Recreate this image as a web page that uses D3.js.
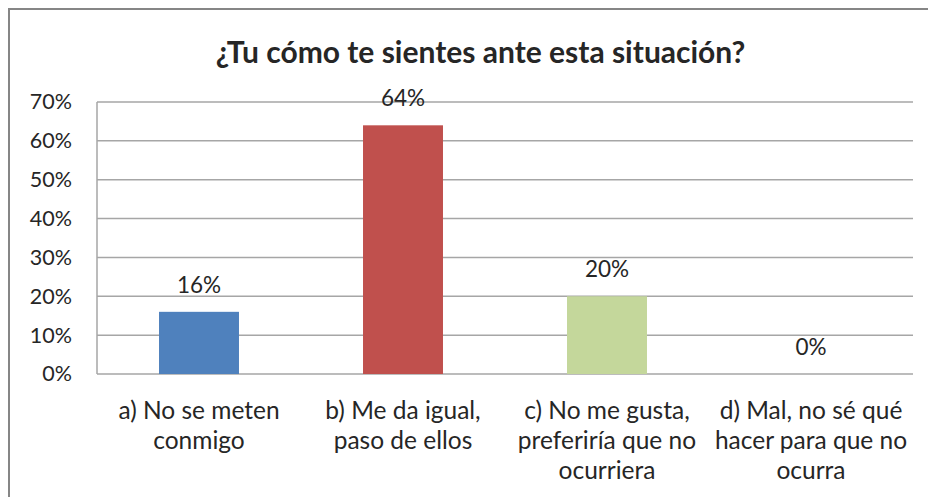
<!DOCTYPE html>
<html>
<head>
<meta charset="utf-8">
<script src="https://cdn.jsdelivr.net/npm/d3@7"></script>
<style>
  html, body { margin: 0; padding: 0; background: #fff; }
  svg { display: block; }
  text { font-family: Lato, "Open Sans", sans-serif; fill: #262626; }
</style>
</head>
<body>
<svg id="chart" width="928" height="497"></svg>
<script>
const title = "¿Tu cómo te sientes ante esta situación?";
const categories = [
  ["a) No se meten", "conmigo"],
  ["b) Me da igual,", "paso de ellos"],
  ["c) No me gusta,", "preferiría que no", "ocurriera"],
  ["d) Mal, no sé qué", "hacer para que no", "ocurra"]
];
const values = [0.16, 0.64, 0.20, 0.00];
const colors = ["#4F81BD", "#C0504D", "#C4D79B", "#8064A2"];
const yTicks = [0, 0.1, 0.2, 0.3, 0.4, 0.5, 0.6, 0.7];

const svg = d3.select("#chart");
const W = 928, H = 497;
const plot = { left: 97, right: 913, top: 102, bottom: 374 };
const FONT = 'Lato, "Open Sans", sans-serif';

// outer frame
svg.append("rect").attr("x", 9).attr("y", 9).attr("width", W + 10).attr("height", H + 10)
  .attr("fill", "#fff").attr("stroke", "#868686").attr("stroke-width", 2);

svg.append("text").attr("x", 480.5).attr("y", 63).attr("text-anchor", "middle")
  .attr("font-size", 30).attr("font-weight", "bold").attr("fill", "#000").text(title);

const x = d3.scaleBand().domain(d3.range(categories.length)).range([plot.left, plot.right]).padding(0);
const y = d3.scaleLinear().domain([0, 0.7]).range([plot.bottom, plot.top]);

// gridlines
svg.append("g").selectAll("line").data(yTicks).join("line")
  .attr("x1", plot.left).attr("x2", plot.right)
  .attr("y1", d => y(d)).attr("y2", d => y(d))
  .attr("stroke", "#A6A6A6").attr("stroke-width", 1.5);

// y-axis line
svg.append("line").attr("x1", plot.left).attr("x2", plot.left)
  .attr("y1", plot.top).attr("y2", plot.bottom).attr("stroke", "#A6A6A6").attr("stroke-width", 1.5);

const yAxis = d3.axisLeft(y).tickValues(yTicks).tickFormat(d3.format(".0%")).tickSize(0).tickPadding(25);
const ga = svg.append("g").attr("transform", `translate(${plot.left},0)`).call(yAxis);
ga.select(".domain").remove();
ga.selectAll("text").attr("font-size", 21.5).attr("fill", "#262626").style("font-family", FONT);

const barW = x.bandwidth() * 0.392;

svg.append("g").selectAll("rect").data(values).join("rect")
  .attr("x", (d, i) => x(i) + x.bandwidth() / 2 - barW / 2)
  .attr("y", d => y(d))
  .attr("width", barW)
  .attr("height", d => plot.bottom - y(d))
  .attr("fill", (d, i) => colors[i]);

svg.append("g").selectAll("text").data(values).join("text")
  .attr("x", (d, i) => x(i) + x.bandwidth() / 2)
  .attr("y", d => y(d) - 19)
  .attr("text-anchor", "middle").attr("font-size", 22.5)
  .text(d => d3.format(".0%")(d));

const cg = svg.append("g");
categories.forEach((lines, i) => {
  const cx = x(i) + x.bandwidth() / 2;
  const t = cg.append("text").attr("text-anchor", "middle").attr("font-size", 24.5)
    .attr("x", cx).attr("y", 418.5);
  lines.forEach((ln, j) => {
    t.append("tspan").attr("x", cx).attr("dy", j === 0 ? 0 : 30).text(ln);
  });
});
</script>
</body>
</html>
